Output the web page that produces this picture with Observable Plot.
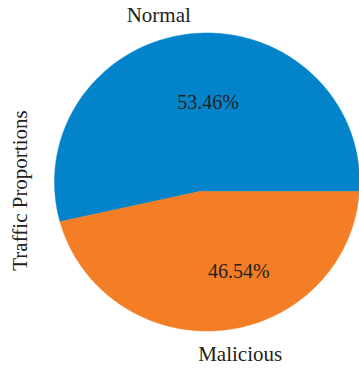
<!DOCTYPE html>
<html><head><meta charset="utf-8">
<script src="https://cdn.jsdelivr.net/npm/d3@7"></script>
<script src="https://cdn.jsdelivr.net/npm/@observablehq/plot@0.6"></script>
<style>body{margin:0;background:#fff}</style>
</head><body><div id="chart"></div>
<script>
// ---- data ----
const categories = ["Normal", "Malicious"];
const percentages = [53.46, 46.54];
const colors = ["#0384CA", "#F47E25"];
const axisTitle = "Traffic Proportions";

// ---- layout constants ----
const W = 359, H = 370;
const apex = [-0.049, -0.064];               // wedge apex (data units), slightly off the circle centre
const labelNudge = [[2, -4], [-27, 9]];       // px nudges for category labels
const pctNudge = [[11, 9.5], [22, 1]];        // px nudges for percentage labels
const font = "Liberation Serif, Times New Roman, serif";

// ---- geometry from data ----
const total = d3.sum(percentages);
function ray(a) { // intersect ray from apex at angle a with unit circle
  const dx = Math.cos(a), dy = Math.sin(a);
  const pd = apex[0]*dx + apex[1]*dy;
  const pp = apex[0]*apex[0] + apex[1]*apex[1];
  const t = -pd + Math.sqrt(pd*pd - (pp - 1));
  return [apex[0] + t*dx, apex[1] + t*dy];
}
let acc = 0;
const slices = categories.map((c, i) => {
  const a0 = acc / total * 2 * Math.PI;
  acc += percentages[i];
  const a1 = acc / total * 2 * Math.PI;
  return {cat: c, pct: percentages[i], a0, a1, mid: (a0 + a1) / 2, color: colors[i]};
});
const polys = [];
for (const s of slices) {
  const b0 = ray(s.a0), b1 = ray(s.a1);
  let t0 = Math.atan2(b0[1], b0[0]), t1 = Math.atan2(b1[1], b1[0]);
  if (t0 < 0) t0 += 2*Math.PI;
  while (t1 <= t0) t1 += 2*Math.PI;
  polys.push({cat: s.cat, x: apex[0], y: apex[1]});
  const n = 180;
  for (let k = 0; k <= n; k++) {
    const t = t0 + (t1 - t0) * k / n;
    polys.push({cat: s.cat, x: Math.cos(t), y: Math.sin(t)});
  }
  polys.push({cat: s.cat, x: apex[0], y: apex[1]});
}

const marks = [
  Plot.line(polys, {x: "x", y: "y", z: "cat", fill: "cat", stroke: "cat", strokeWidth: 0.5, curve: "linear"}),
  Plot.text([axisTitle], {frameAnchor: "left", rotate: -90, dx: 20, dy: 5, fontFamily: font, fontSize: 21, fill: "#222", textAnchor: "middle"})
];
slices.forEach((s, i) => {
  const lx = 1.1 * Math.cos(s.mid), ly = 1.1 * Math.sin(s.mid);
  marks.push(Plot.text([s], {x: () => lx, y: () => ly, text: "cat",
    textAnchor: lx > 0 ? "start" : "end", lineAnchor: "middle",
    dx: labelNudge[i][0], dy: labelNudge[i][1], fontFamily: font, fontSize: 21, fill: "#222"}));
  marks.push(Plot.text([s], {x: () => 0.6 * Math.cos(s.mid), y: () => 0.6 * Math.sin(s.mid),
    text: d => d.pct.toFixed(2) + "%", textAnchor: "middle", lineAnchor: "middle",
    dx: pctNudge[i][0], dy: pctNudge[i][1], fontFamily: font, fontSize: 20, fill: "#222"}));
});

const chart = Plot.plot({
  width: W, height: H,
  margin: 0,
  x: {domain: [-1, 1], range: [54, 359], axis: null},
  y: {domain: [-1, 1], range: [330.5, 32.5], axis: null},
  color: {domain: categories, range: colors},
  style: {background: "#fff", overflow: "visible"},
  marks
});
document.getElementById("chart").appendChild(chart);
</script>
</body></html>
